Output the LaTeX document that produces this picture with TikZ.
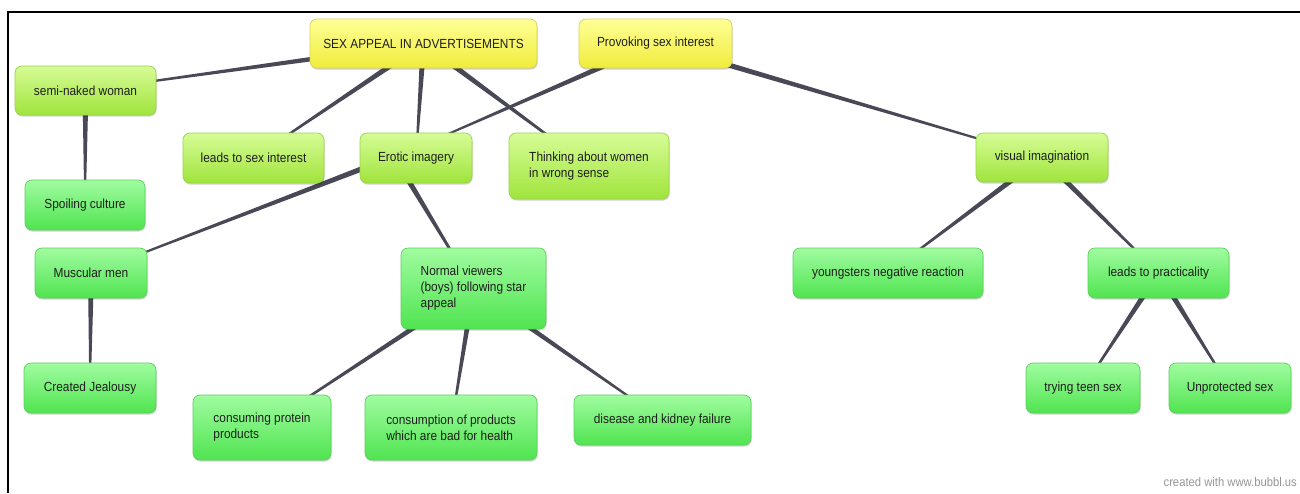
\documentclass[tikz,border=0pt]{standalone}
\usepackage{fontspec}
\setmainfont{Liberation Sans}[FakeStretch=0.9]
\usetikzlibrary{calc,shadows}
\pgfdeclarelayer{bg}
\pgfsetlayers{bg,main}
\definecolor{linkc}{RGB}{72,72,86}
\definecolor{ytop}{RGB}{255,255,150}
\definecolor{ybot}{RGB}{240,236,60}
\definecolor{ydraw}{RGB}{218,210,80}
\definecolor{ltop}{RGB}{214,252,150}
\definecolor{lbot}{RGB}{160,228,60}
\definecolor{ldraw}{RGB}{150,215,70}
\definecolor{gtop}{RGB}{160,252,160}
\definecolor{gbot}{RGB}{80,228,80}
\definecolor{gdraw}{RGB}{90,210,90}
\definecolor{txt}{RGB}{30,30,30}
\definecolor{credit}{RGB}{150,150,150}
\newcommand\taperlink[2]{%
  \fill[linkc] ($(#1)!3pt!90:(#2)$) -- ($(#2)!0.7pt!-90:(#1)$) --
    ($(#2)!0.7pt!90:(#1)$) -- ($(#1)!3pt!-90:(#2)$) -- cycle;}
\tikzset{
  box/.style={rounded corners=7pt, line width=0.7pt, inner sep=0pt,
    align=left, text=txt, font=\fontsize{13.2}{16}\selectfont,
    drop shadow={shadow xshift=0.6pt, shadow yshift=-1.6pt, opacity=0.18, fill=black}},
  ybox/.style={box, draw=ydraw, top color=ytop, bottom color=ybot},
  lbox/.style={box, draw=ldraw, top color=ltop, bottom color=lbot},
  gbox/.style={box, draw=gdraw, top color=gtop, bottom color=gbot},
}
\begin{document}
\begin{tikzpicture}[x=1pt,y=-1pt]
\useasboundingbox (0,0) rectangle (1300,493);

\node[ybox, minimum width=227pt, minimum height=49pt] (sex) at (423.5,43.5) {SEX APPEAL IN ADVERTISEMENTS};
\node[ybox, minimum width=153pt, minimum height=49pt] (pro) at (655.5,43.5) {Provoking sex interest};
\node[lbox, minimum width=141pt, minimum height=49pt] (semi) at (85.5,90.5) {semi-naked woman};
\node[lbox, minimum width=141pt, minimum height=50pt] (lsi) at (253.5,158) {leads to sex interest};
\node[lbox, minimum width=112pt, minimum height=50pt] (ero) at (416,158) {Erotic imagery};
\node[lbox, minimum width=160pt, minimum height=66pt] (thk) at (589,166) {Thinking about women\\in wrong sense};
\node[lbox, minimum width=132pt, minimum height=49pt] (vis) at (1042,157.5) {visual imagination};
\node[gbox, minimum width=120pt, minimum height=50pt] (spo) at (85,205) {Spoiling culture};
\node[gbox, minimum width=112pt, minimum height=50pt] (mus) at (91,273) {Muscular men};
\node[gbox, minimum width=132pt, minimum height=50pt] (jea) at (90,388) {Created Jealousy};
\node[gbox, minimum width=145pt, minimum height=81pt] (nor) at (473.5,288.5) {Normal viewers\\(boys) following star\\appeal};
\node[gbox, minimum width=138pt, minimum height=65pt] (cpp) at (262,427.5) {consuming protein\\products};
\node[gbox, minimum width=172pt, minimum height=65pt] (cop) at (451,427.5) {consumption of products\\which are bad for health};
\node[gbox, minimum width=177pt, minimum height=50pt] (dis) at (662.5,420) {disease and kidney failure};
\node[gbox, minimum width=190pt, minimum height=50pt] (you) at (888,273) {youngsters negative reaction};
\node[gbox, minimum width=141pt, minimum height=50pt] (pra) at (1158.5,273) {leads to practicality};
\node[gbox, minimum width=114pt, minimum height=50pt] (tee) at (1083,388) {trying teen sex};
\node[gbox, minimum width=122pt, minimum height=50pt] (unp) at (1230,388) {Unprotected sex};

\node[anchor=base east, text=credit, font=\fontsize{12.5}{14}\selectfont, inner sep=0pt] (cred) at (1297,486) {created with www.bubbl.us};

\coordinate (eroN) at ($(ero)+(-21,0)$);
\coordinate (eroU) at ($(ero)+(0,-10)$);

\begin{pgfonlayer}{bg}
\fill[white] (0,0) rectangle (1300,493);
\draw[line width=2pt, black] (8,493) -- (8,12) -- (1300,12);
\taperlink{sex}{semi}
\taperlink{sex}{lsi}
\taperlink{sex}{ero}
\taperlink{sex}{thk}
\taperlink{pro}{eroU}
\taperlink{pro}{vis}
\taperlink{semi}{spo}
\taperlink{eroU}{mus}
\taperlink{eroN}{nor}
\taperlink{mus}{jea}
\taperlink{nor}{cpp}
\taperlink{nor}{cop}
\taperlink{nor}{dis}
\taperlink{vis}{you}
\taperlink{vis}{pra}
\taperlink{pra}{tee}
\taperlink{pra}{unp}
\end{pgfonlayer}
\end{tikzpicture}
\end{document}
